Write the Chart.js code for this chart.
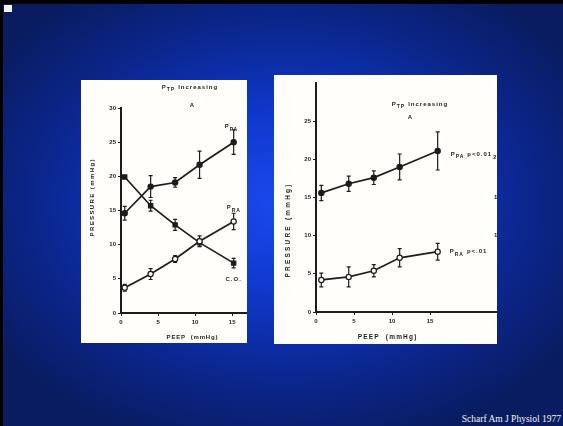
<!DOCTYPE html>
<html>
<head>
<meta charset="utf-8">
<script src="https://cdn.jsdelivr.net/npm/chart.js@4.4.1/dist/chart.umd.min.js"></script>
<style>
  html, body { margin: 0; padding: 0; background: #000; }
  body { width: 563px; height: 426px; position: relative; overflow: hidden; }
  #slide {
    position: absolute; left: 3px; top: 4px; width: 560px; height: 422px;
    background: radial-gradient(ellipse 62% 60% at 50% 47%, #1b49ee 0%, #1038cc 35%, #0b2790 68%, #091c60 100%);
  }
  #mark { position: absolute; left: 4px; top: 5px; width: 8px; height: 7px; background: #f2f2f2; }
  .panel { position: absolute; background: #fffefa; }
  #p1 { left: 81px; top: 80px; width: 166px; height: 263px; }
  #p2 { left: 274px; top: 75px; width: 223px; height: 269px; }
  #cite {
    position: absolute; right: 2px; top: 414px; color: #f4f4f4;
    font: 9.5px "Liberation Serif", "DejaVu Serif", serif; white-space: nowrap;
  }
</style>
</head>
<body>
<div id="slide"></div>
<div id="mark"></div>
<div class="panel" id="p1"><canvas id="chart1" width="166" height="263"></canvas></div>
<div class="panel" id="p2"><canvas id="chart2" width="223" height="269"></canvas></div>
<div id="cite">Scharf Am J Physiol 1977</div>
<script>
// left panel (PEEP vs pressure / cardiac output)
var peep1 = [0.5, 4, 7.3, 10.6, 15.2];
var ppa1 = [14.6, 18.5, 19.1, 21.7, 25.0];
var ppa1Err = [1.0, 1.6, 0.7, 2.0, 1.8];
var pra1 = [3.7, 5.7, 7.9, 10.5, 13.4];
var pra1Err = [0.5, 0.8, 0.5, 0.8, 1.2];
var co1 = [19.9, 15.7, 12.9, 10.3, 7.3];
var co1Err = [0.2, 0.8, 0.8, 0.5, 0.7];
var yTicks1 = [0, 5, 10, 15, 20, 25, 30];

// right panel
var peep2 = [0.7, 4.3, 7.6, 11.0, 16.0];
var ppa2 = [15.6, 16.8, 17.6, 19.0, 21.1];
var ppa2Err = [1.0, 1.0, 0.9, 1.7, 2.5];
var pra2 = [4.2, 4.6, 5.4, 7.1, 7.9];
var pra2Err = [0.9, 1.3, 0.8, 1.2, 1.1];
var yTicks2 = [0, 5, 10, 15, 20, 25];

var xTicks = [0, 5, 10, 15];
var xTitle = "PEEP  (mmHg)";
var yTitle = "PRESSURE (mmHg)";

var INK = "#1c1c1c";
var FONT = "Liberation Sans, Arial, sans-serif";

function pts(xs, ys) {
  return xs.map(function (x, i) { return { x: x, y: ys[i] }; });
}

// P with subscript, optional trailing text
function subText(ctx, x, y, main, sub, rest, align) {
  ctx.save();
  ctx.fillStyle = INK;
  ctx.textBaseline = "middle";
  ctx.letterSpacing = "1px";
  ctx.font = "bold 6px " + FONT;
  var w1 = ctx.measureText(main).width;
  ctx.font = "bold 5px " + FONT;
  var w2 = ctx.measureText(sub).width;
  ctx.font = "bold 6px " + FONT;
  var w3 = rest ? ctx.measureText(rest).width + 3 : 0;
  var total = w1 + w2 + w3;
  var sx = align === "center" ? x - total / 2 : x;
  ctx.textAlign = "left";
  ctx.fillText(main, sx, y);
  ctx.font = "bold 5px " + FONT;
  ctx.fillText(sub, sx + w1, y + 3);
  if (rest) {
    ctx.font = "bold 6px " + FONT;
    ctx.fillText(rest, sx + w1 + w2 + 3, y);
  }
  ctx.restore();
}

function axisTitle(ctx, text, x, y, rot, size, spacing) {
  ctx.save();
  ctx.translate(x, y);
  if (rot) ctx.rotate(-Math.PI / 2);
  ctx.fillStyle = INK;
  ctx.font = "bold " + size + "px " + FONT;
  ctx.letterSpacing = spacing + "px";
  ctx.textAlign = "center";
  ctx.textBaseline = "middle";
  ctx.fillText(text, spacing / 2, 0);
  ctx.restore();
}

var errorBars = {
  id: "errorBars",
  beforeDatasetsDraw: function (chart) {
    var ctx = chart.ctx;
    var xs = chart.scales.x, ys = chart.scales.y;
    ctx.save();
    ctx.strokeStyle = INK;
    ctx.lineWidth = 1.2;
    chart.data.datasets.forEach(function (ds) {
      if (!ds.errors) return;
      ds.data.forEach(function (p, i) {
        var e = ds.errors[i];
        var px = xs.getPixelForValue(p.x);
        var top = ys.getPixelForValue(p.y + e);
        var bot = ys.getPixelForValue(p.y - e);
        ctx.beginPath();
        ctx.moveTo(px, top); ctx.lineTo(px, bot);
        ctx.moveTo(px - 2, top); ctx.lineTo(px + 2, top);
        ctx.moveTo(px - 2, bot); ctx.lineTo(px + 2, bot);
        ctx.stroke();
      });
    });
    ctx.restore();
  }
};

var annotations = {
  id: "annotations",
  afterDraw: function (chart, args, opts) {
    var ctx = chart.ctx;
    var xs = chart.scales.x, ys = chart.scales.y;
    // axis titles
    axisTitle(ctx, xTitle, opts.xtX, opts.xtY, false, opts.tSize, opts.xtSp);
    axisTitle(ctx, yTitle, opts.ytX, opts.ytY, true, opts.tSize, opts.ytSp);
    // title block
    subText(ctx, opts.titleX, opts.titleY, "P", "TP", "Increasing", "center");
    ctx.save();
    ctx.fillStyle = INK;
    ctx.font = "bold 6px " + FONT;
    ctx.textAlign = "center";
    ctx.textBaseline = "middle";
    ctx.fillText("A", opts.aX, opts.aY);
    ctx.restore();
    // curve labels next to the last point of each series
    chart.data.datasets.forEach(function (ds) {
      if (!ds.tag) return;
      var last = ds.data[ds.data.length - 1];
      var px = xs.getPixelForValue(last.x) + ds.tag.dx;
      var py = ys.getPixelForValue(last.y) + ds.tag.dy;
      if (ds.tag.plain) {
        ctx.save();
        ctx.fillStyle = INK;
        ctx.font = "bold 6px " + FONT;
        ctx.letterSpacing = "1px";
        ctx.textAlign = "center";
        ctx.textBaseline = "middle";
        ctx.fillText(ds.tag.main, px, py);
        ctx.restore();
      } else {
        subText(ctx, px, py, ds.tag.main, ds.tag.sub, ds.tag.rest, ds.tag.align);
      }
    });
    // clipped characters at the edge of the scanned figure
    if (opts.edge) {
      ctx.save();
      ctx.fillStyle = INK;
      ctx.font = "bold 6px " + FONT;
      ctx.textBaseline = "middle";
      opts.edge.forEach(function (e) { ctx.fillText(e[0], e[1], e[2]); });
      ctx.restore();
    }
  }
};

function lineSet(data, errs, style, filled, tag) {
  return {
    data: data,
    errors: errs,
    tag: tag,
    borderColor: INK,
    borderWidth: 1.7,
    pointStyle: style,
    pointRadius: style === "rect" ? 3 : 2.6,
    pointBackgroundColor: filled ? INK : "#fffefa",
    pointBorderColor: INK,
    pointBorderWidth: 1.2,
    tension: 0,
    clip: false
  };
}

function axes(cfg) {
  var tickFont = { size: 6, weight: "bold", family: FONT };
  return {
    x: {
      type: "linear",
      min: 0, max: cfg.xMax,
      afterBuildTicks: function (s) { s.ticks = xTicks.map(function (v) { return { value: v }; }); },
      afterFit: function (s) { s.height = cfg.xH; },
      border: { color: INK, width: 2 },
      grid: { drawOnChartArea: false, tickLength: 3, color: INK, lineWidth: 1 },
      ticks: { color: INK, font: tickFont, padding: 3, maxRotation: 0 }
    },
    y: {
      type: "linear",
      min: 0, max: 30,
      afterBuildTicks: function (s) { s.ticks = cfg.yTicks.map(function (v) { return { value: v }; }); },
      afterFit: function (s) { s.width = cfg.yW; },
      border: { color: INK, width: 2 },
      grid: { drawOnChartArea: false, tickLength: 3, color: INK, lineWidth: 1 },
      ticks: { color: INK, font: tickFont, padding: 2 }
    }
  };
}

new Chart(document.getElementById("chart1").getContext("2d"), {
  type: "line",
  data: {
    datasets: [
      lineSet(pts(peep1, ppa1), ppa1Err, "circle", true, { main: "P", sub: "PA", dx: -9, dy: -16, align: "left" }),
      lineSet(pts(peep1, pra1), pra1Err, "circle", false, { main: "P", sub: "RA", dx: -7, dy: -14, align: "left" }),
      lineSet(pts(peep1, co1), co1Err, "rect", true, { main: "C.O.", plain: true, dx: 0, dy: 16 })
    ]
  },
  options: {
    responsive: false,
    animation: false,
    layout: { autoPadding: false, padding: { top: 28, right: 0, left: 0, bottom: 0 } },
    plugins: {
      legend: { display: false },
      tooltip: { enabled: false },
      annotations: {
        titleX: 109, titleY: 7, aX: 111, aY: 25,
        tSize: 6, xtX: 111, xtY: 257, xtSp: 0.8, ytX: 11, ytY: 118, ytSp: 1.4
      }
    },
    scales: axes({ xMax: 17, xH: 30, yW: 40, yTicks: yTicks1 })
  },
  plugins: [errorBars, annotations]
});

new Chart(document.getElementById("chart2").getContext("2d"), {
  type: "line",
  data: {
    datasets: [
      lineSet(pts(peep2, ppa2), ppa2Err, "circle", true, { main: "P", sub: "PA", rest: "p<0.01", dx: 13, dy: 3, align: "left" }),
      lineSet(pts(peep2, pra2), pra2Err, "circle", false, { main: "P", sub: "RA", rest: "p<.01", dx: 12, dy: 0, align: "left" })
    ]
  },
  options: {
    responsive: false,
    animation: false,
    layout: { autoPadding: false, padding: { top: 8, right: 0, left: 0, bottom: 0 } },
    plugins: {
      legend: { display: false },
      tooltip: { enabled: false },
      annotations: {
        titleX: 146, titleY: 29, aX: 136, aY: 42,
        tSize: 6.5, xtX: 113, xtY: 262, xtSp: 1.2, ytX: 14, ytY: 156, ytSp: 2.2,
        edge: [["2", 219, 82], ["1", 220, 122], ["1", 220, 160]]
      }
    },
    scales: axes({ xMax: 23.8, xH: 32, yW: 42, yTicks: yTicks2 })
  },
  plugins: [errorBars, annotations]
});
</script>
</body>
</html>
